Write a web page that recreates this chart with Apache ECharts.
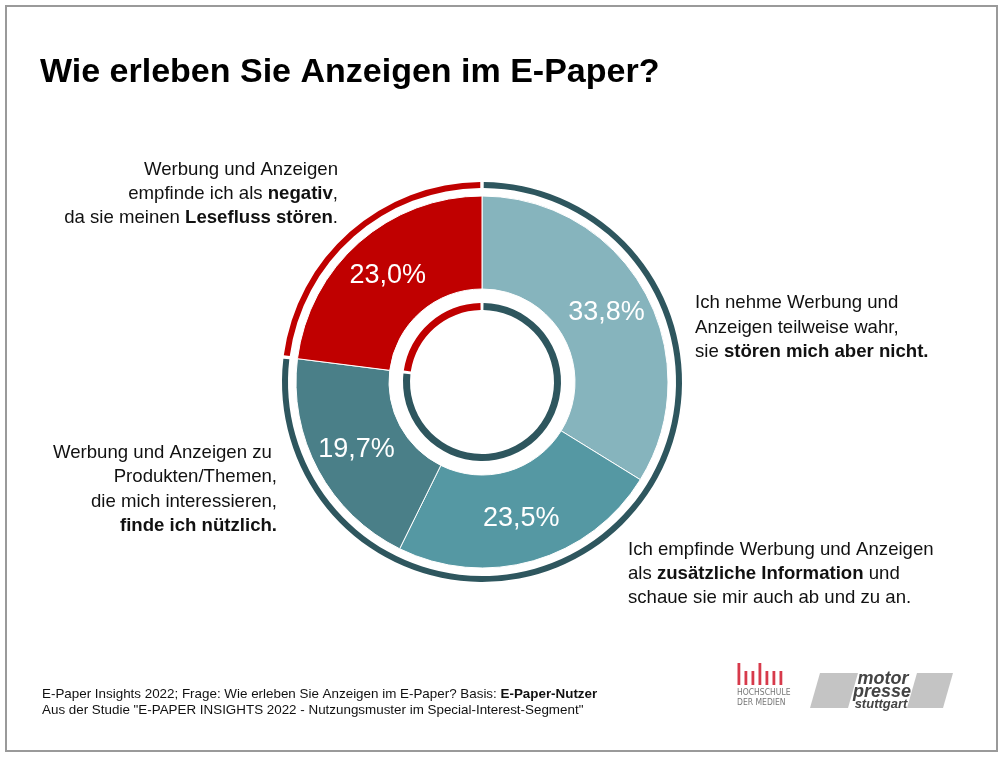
<!DOCTYPE html>
<html>
<head>
<meta charset="utf-8">
<script src="https://cdn.jsdelivr.net/npm/echarts@6/dist/echarts.min.js"></script>
<style>
html,body{margin:0;padding:0;background:#fff;}
#chart{width:1004px;height:758px;}
</style>
</head>
<body>
<div id="chart"></div>
<script>
// ---- data ----
const categories = [
  'Ich nehme Werbung und Anzeigen teilweise wahr, sie stören mich aber nicht.',
  'Ich empfinde Werbung und Anzeigen als zusätzliche Information und schaue sie mir auch ab und zu an.',
  'Werbung und Anzeigen zu Produkten/Themen, die mich interessieren, finde ich nützlich.',
  'Werbung und Anzeigen empfinde ich als negativ, da sie meinen Lesefluss stören.'
];
const values = [33.8, 23.5, 19.7, 23.0];
const sliceColors = ['#86b4bd', '#5598a3', '#4a7f88', '#c00000'];
const ringColors = ['#2e565e', '#c00000'];
const negativeIndex = 3;

const titleText = 'Wie erleben Sie Anzeigen im E-Paper?';
const footerLines = [
  'E-Paper Insights 2022; Frage: Wie erleben Sie Anzeigen im E-Paper? Basis: {b|E-Paper-Nutzer}',
  'Aus der Studie "E-PAPER INSIGHTS 2022 - Nutzungsmuster im Special-Interest-Segment"'
];
const annotA = ['Werbung und Anzeigen', 'empfinde ich als {b|negativ},', 'da sie meinen {b|Lesefluss stören}.'];
const annotB = ['Ich nehme Werbung und', 'Anzeigen teilweise wahr,', 'sie {b|stören mich aber nicht.}'];
const annotC = ['Werbung und Anzeigen zu ', 'Produkten/Themen,', 'die mich interessieren,', '{b|finde ich nützlich.}'];
const annotD = ['Ich empfinde Werbung und Anzeigen', 'als {b|zusätzliche Information} und', 'schaue sie mir auch ab und zu an.'];

// ---- chart ----
const FONT = '"Liberation Sans", Arial, Helvetica, sans-serif';
const CX = 482, CY = 382;
const ANN = 18.6;

const positiveSum = values.filter((v, i) => i !== negativeIndex).reduce((a, b) => a + b, 0);
const ringData = [
  { value: positiveSum, itemStyle: { color: ringColors[0] } },
  { value: values[negativeIndex], itemStyle: { color: ringColors[1] } }
];

function textLines(lines, x, y0, align, size, lh) {
  return lines.map((t, i) => ({
    type: 'text',
    x: x, y: y0 + i * lh,
    style: {
      text: t,
      align: align,
      verticalAlign: 'middle',
      font: 'normal ' + size + 'px ' + FONT,
      fill: '#111',
      rich: {
        b: { fontWeight: 'bold', fontSize: size, fontFamily: FONT, fill: '#111', color: '#111' }
      }
    }
  }));
}

const hdmBars = [22, 14, 14, 22, 14, 14, 14];
const graphics = [
  { type: 'rect', shape: { x: 6, y: 6, width: 991, height: 745 }, style: { fill: 'none', stroke: '#9a9a9a', lineWidth: 2 } },
  { type: 'text', x: 40, y: 73, style: { text: titleText, font: 'bold 34px ' + FONT, fill: '#000', verticalAlign: 'middle' } },
  ...textLines(annotA, 338, 170, 'right', ANN, 24),
  ...textLines(annotB, 695, 303, 'left', ANN, 24.5),
  ...textLines(annotC, 277, 453, 'right', ANN, 24.3),
  ...textLines(annotD, 628, 550, 'left', ANN, 24),
  ...footerLines.map((t, i) => ({
    type: 'text', x: 42, y: 694 + i * 16,
    style: { text: t, font: 'normal 13.4px ' + FONT, fill: '#111', verticalAlign: 'middle',
      rich: { b: { fontWeight: 'bold', fontSize: 13.4, fontFamily: FONT, fill: '#111', color: '#111' } } }
  })),
  // HdM logo
  ...hdmBars.map((h, i) => ({
    type: 'rect', shape: { x: 737.5 + i * 7, y: 685 - h, width: 2.8, height: h }, style: { fill: '#d73a4b' }
  })),
  { type: 'text', x: 737, y: 693, style: { text: 'HOCHSCHULE', font: 'normal 8.5px "DejaVu Sans Condensed", ' + FONT, fill: '#777', verticalAlign: 'middle' } },
  { type: 'text', x: 737, y: 703, style: { text: 'DER MEDIEN', font: 'normal 8.5px "DejaVu Sans Condensed", ' + FONT, fill: '#777', verticalAlign: 'middle' } },
  // motorpresse logo
  { type: 'polygon', shape: { points: [[810, 708], [820, 673], [858, 673], [848, 708]] }, style: { fill: '#c4c4c4' } },
  { type: 'polygon', shape: { points: [[917, 673], [953, 673], [943, 708], [907, 708]] }, style: { fill: '#c4c4c4' } },
  { type: 'text', x: 883, y: 679, style: { text: 'motor', font: 'italic bold 18px ' + FONT, fill: '#444', align: 'center', verticalAlign: 'middle' } },
  { type: 'text', x: 882, y: 692, style: { text: 'presse', font: 'italic bold 18px ' + FONT, fill: '#444', align: 'center', verticalAlign: 'middle' } },
  { type: 'text', x: 881, y: 704, style: { text: 'stuttgart', font: 'italic bold 13px ' + FONT, fill: '#444', align: 'center', verticalAlign: 'middle' } }
];

const chart = echarts.init(document.getElementById('chart'), null, { renderer: 'canvas' });
chart.setOption({
  backgroundColor: '#fff',
  animation: false,
  graphic: graphics,
  series: [
    {
      type: 'pie',
      center: [CX, CY],
      radius: [93, 186],
      startAngle: 90,
      clockwise: true,
      avoidLabelOverlap: false,
      silent: true,
      data: values.map((v, i) => ({ name: categories[i], value: v, itemStyle: { color: sliceColors[i] } })),
      itemStyle: { borderColor: '#fff', borderWidth: 1 },
      label: {
        show: true,
        position: 'inside',
        formatter: p => p.value.toFixed(1).replace('.', ',') + '%',
        color: '#fff',
        fontSize: 27,
        fontFamily: FONT
      },
      labelLine: { show: false }
    },
    {
      type: 'pie',
      center: [CX, CY],
      radius: [194, 200],
      startAngle: 90,
      padAngle: 1,
      silent: true,
      label: { show: false },
      labelLine: { show: false },
      data: ringData
    },
    {
      type: 'pie',
      center: [CX, CY],
      radius: [72, 79],
      startAngle: 90,
      padAngle: 2.2,
      silent: true,
      label: { show: false },
      labelLine: { show: false },
      data: ringData
    }
  ]
});
</script>
</body>
</html>
